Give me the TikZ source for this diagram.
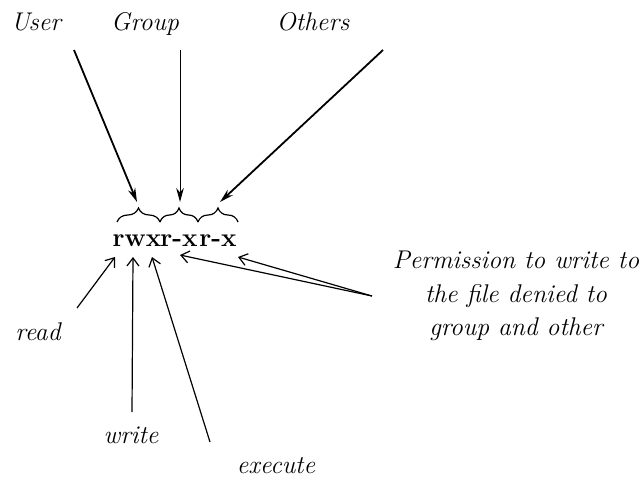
\documentclass[tikz,border=0pt]{standalone}
\usepackage{tikz}
\usetikzlibrary{arrows.meta,decorations.pathreplacing,positioning}

\tikzset{
    label/.style={font=\fontsize{12.8}{15}\selectfont\itshape, inner sep=0pt, anchor=base},
    bits/.style={font=\fontsize{13}{15}\selectfont\bfseries, inner sep=0pt, anchor=base},
    classarrow/.style={-{Stealth[length=7pt,width=3.8pt]}, line width=0.9pt},
    bitarrow/.style={-{Straight Barb[length=4pt,width=6pt]}, line width=0.6pt},
}

\begin{document}
\begin{tikzpicture}[x=0.5pt, y=-0.5pt]
    \useasboundingbox (0,0) rectangle (642,478);
    % Classes of users
    \node[label] (user) at (36,30) {User};
    \node[label] (group) at (145,30) {Group};
    \node[label] (others) at (313,30) {Others};
    % Permission string
    \node[bits] (ubits) at (137,246) {rwx};
    \node[bits] (gbits) at (179,246) {r-x};
    \node[bits] (obits) at (218,246) {r-x};
    % Braces over each group of bits
    \foreach \a/\b in {117/160, 160/198, 198/238} {
        \draw[decorate, decoration={brace, amplitude=7pt}, line width=0.6pt] (\a,222) -- (\b,222);
    }
    \coordinate (user-tip) at (137,202);
    \coordinate (group-tip) at (180,202);
    \coordinate (others-tip) at (220,202);
    \coordinate (user-from) at (74,50);
    \coordinate (group-from) at (180,50);
    \coordinate (others-from) at (383,50);
    \draw[classarrow] (user-from) -- (user-tip);
    \draw[classarrow, line width=0.5pt] (group-from) -- (group-tip);
    \draw[classarrow] (others-from) -- (others-tip);
    % Meaning of the bits
    \node[label] (read) at (38,340) {read};
    \node[label] (write) at (131,443) {write};
    \node[label] (execute) at (276,473) {execute};
    \coordinate (read-from) at (77,308);
    \coordinate (write-from) at (132,412);
    \coordinate (execute-from) at (210,442);
    \draw[bitarrow] (read-from) -- (115,257);
    \draw[bitarrow] (write-from) -- (133,257);
    \draw[bitarrow] (execute-from) -- (152,257);
    % Note on the denied write bits
    \node[font=\fontsize{12.8}{16.8}\selectfont\itshape, align=center, inner sep=0pt] (note) at (516,296)
        {Permission to write to\\the file denied to\\group and other};
    \coordinate (note-from) at (372,296);
    \draw[bitarrow] (note-from) -- (180,255);
    \draw[bitarrow] (note-from) -- (238,257);
\end{tikzpicture}
\end{document}
